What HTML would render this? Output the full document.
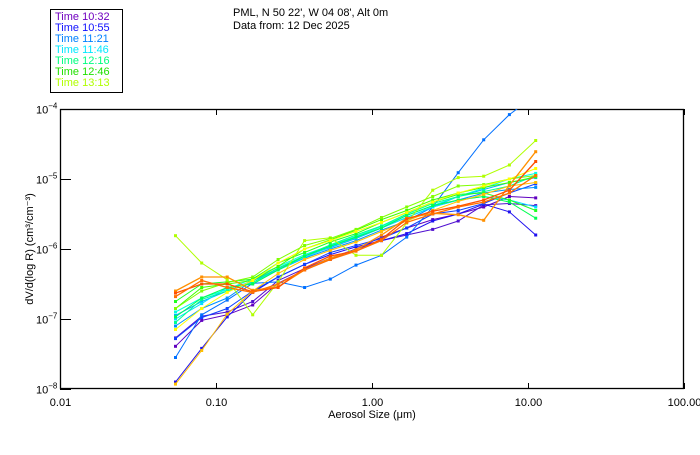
<!DOCTYPE html>
<html><head><meta charset="utf-8"><style>
body{margin:0;background:#fff;width:700px;height:450px;overflow:hidden;font-family:"Liberation Sans","DejaVu Sans",sans-serif}
svg text{font-family:"Liberation Sans","DejaVu Sans",sans-serif;font-size:11px}
</style></head><body>
<svg id="chart" width="700" height="450" viewBox="0 0 700 450" xmlns="http://www.w3.org/2000/svg">
<rect x="0" y="0" width="700" height="450" fill="#fff"/>
<g>
<rect x="50.5" y="9.5" width="72" height="83" fill="#fff" stroke="#000"/>
<text x="55" y="20" fill="#7000c0">Time 10:32</text>
<text x="55" y="31" fill="#1010ff">Time 10:55</text>
<text x="55" y="42" fill="#0080ff">Time 11:21</text>
<text x="55" y="53" fill="#00e8ff">Time 11:46</text>
<text x="55" y="64" fill="#00ff80">Time 12:16</text>
<text x="55" y="75" fill="#20e000">Time 12:46</text>
<text x="55" y="86" fill="#b0ff00">Time 13:13</text>
</g>
<text x="233" y="16">PML, N 50 22', W 04 08', Alt 0m</text>
<text x="233" y="29">Data from: 12 Dec 2025</text>
<g id="axes"></g>
<g id="series" clip-path="url(#clip)"></g>
<defs><clipPath id="clip"><rect x="60" y="109" width="624" height="280"/></clipPath></defs>
<text x="372" y="418" text-anchor="middle">Aerosol Size (μm)</text>
<text transform="translate(33,249) rotate(-90)" text-anchor="middle">dV/d(log R) (cm³/cm⁻³)</text>
</svg>
<script>
const sizes=[0.055,0.081,0.118,0.172,0.25,0.37,0.54,0.79,1.15,1.67,2.45,3.57,5.2,7.6,11.2];
const xTicks=[0.01,0.1,1,10,100];
const xTickLabels=["0.01","0.10","1.00","10.00","100.00"];
const yTickExps=[-4,-5,-6,-7,-8];
const seriesColors=["#6000c0","#5010d0","#2010f0","#1040ff","#0070ff","#0090ff","#00b0ff","#00e0ff","#00ffe0","#00ff90","#00ff50","#20ff20","#40ff00","#b0ff00","#80ff00","#ffff00","#ffc000","#ff9000","#ff5000","#ff7000"];
// log10 of dV/dlogR for each series
const s01=[-7.39,-7.02,-6.94,-6.8,-6.49,-6.3,-6.15,-6.0,-5.83,-5.7,-5.58,-5.5,-5.4,-5.25,-5.27];
const s02=[-7.27,-6.96,-6.9,-6.75,-6.45,-6.28,-6.13,-6.0,-5.88,-5.8,-5.72,-5.6,-5.37,-5.35,-5.38];
const s03=[-7.9,-7.42,-6.97,-6.62,-6.4,-6.22,-6.08,-5.97,-5.88,-5.78,-5.6,-5.5,-5.36,-5.47,-5.8];
const s04=[-7.28,-6.98,-6.85,-6.6,-6.4,-6.22,-6.05,-5.95,-5.85,-5.7,-5.5,-5.45,-5.35,-5.2,-5.07];
const s05=[-7.55,-6.94,-6.73,-6.49,-6.47,-6.55,-6.43,-6.23,-6.09,-5.83,-5.4,-4.91,-4.44,-4.08,-3.8];
const s06=[-7.1,-6.85,-6.7,-6.45,-6.3,-6.13,-6.0,-5.88,-5.73,-5.6,-5.4,-5.3,-5.2,-5.15,-5.12];
const s07=[-6.95,-6.75,-6.6,-6.45,-6.28,-6.1,-5.98,-5.85,-5.7,-5.55,-5.4,-5.25,-5.15,-5.05,-4.98];
const s08=[-7.0,-6.78,-6.55,-6.48,-6.3,-6.12,-5.97,-5.84,-5.7,-5.55,-5.4,-5.3,-5.25,-5.3,-5.4];
const s09=[-6.9,-6.7,-6.58,-6.42,-6.25,-6.08,-5.95,-5.82,-5.68,-5.52,-5.38,-5.25,-5.13,-5.0,-4.92];
const s10=[-7.05,-6.72,-6.6,-6.48,-6.27,-6.1,-5.94,-5.8,-5.67,-5.5,-5.35,-5.25,-5.18,-5.1,-4.95];
const s11=[-6.97,-6.7,-6.55,-6.5,-6.3,-6.1,-5.96,-5.83,-5.7,-5.52,-5.38,-5.3,-5.25,-5.33,-5.56];
const s12=[-6.75,-6.5,-6.47,-6.43,-6.2,-6.05,-5.9,-5.78,-5.62,-5.48,-5.33,-5.22,-5.2,-5.3,-5.45];
const s13=[-6.85,-6.55,-6.5,-6.45,-6.25,-6.0,-5.87,-5.73,-5.58,-5.45,-5.3,-5.2,-5.12,-5.05,-4.97];
const s14=[-5.81,-6.2,-6.44,-6.94,-6.47,-5.88,-5.84,-6.09,-6.09,-5.63,-5.16,-4.98,-4.96,-4.8,-4.45];
const s15=[-6.85,-6.6,-6.48,-6.4,-6.15,-5.95,-5.85,-5.72,-5.55,-5.4,-5.25,-5.1,-5.08,-5.0,-4.95];
const s16=[-7.15,-6.85,-6.62,-6.45,-6.2,-6.0,-5.88,-5.75,-5.62,-5.48,-5.33,-5.2,-5.1,-5.0,-4.85];
const s17=[-7.93,-7.45,-6.93,-6.6,-6.35,-6.15,-6.02,-5.9,-5.75,-5.6,-5.45,-5.32,-5.22,-5.1,-5.05];
const s18=[-6.6,-6.4,-6.4,-6.59,-6.54,-6.3,-6.13,-6.01,-5.8,-5.56,-5.49,-5.51,-5.59,-5.09,-4.61];
const s19=[-6.63,-6.5,-6.5,-6.61,-6.55,-6.27,-6.1,-6.03,-5.86,-5.57,-5.46,-5.39,-5.3,-5.16,-4.75];
const s20=[-6.68,-6.45,-6.55,-6.62,-6.5,-6.3,-6.15,-6.03,-5.88,-5.62,-5.5,-5.4,-5.33,-5.2,-4.95];
const allSeries=[s01,s02,s03,s04,s05,s06,s07,s08,s09,s10,s11,s12,s13,s14,s15,s16,s17,s18,s19,s20];

const L=60,R=684,T=109,B=389;
const xMinE=-2,xMaxE=2,yMinE=-8,yMaxE=-4;
function xs(v){return L+(Math.log10(v)-xMinE)/(xMaxE-xMinE)*(R-L);}
function ys(e){return B-(e-yMinE)/(yMaxE-yMinE)*(B-T);}
const NS="http://www.w3.org/2000/svg";
function mk(tag,attrs,parent){const el=document.createElementNS(NS,tag);for(const k in attrs)el.setAttribute(k,attrs[k]);parent.appendChild(el);return el;}
const axes=document.getElementById('axes');
const frame=mk('rect',{x:L+0.5,y:T+0.5,width:R-L-1,height:B-T-1,fill:'none',stroke:'#000','stroke-width':1.3},axes);


xTicks.forEach((v,i)=>{
  const x=Math.round(xs(v))+0.5;
  const t1=mk('line',{x1:x,x2:x,y1:B,y2:B-6,stroke:'#000'},axes);
  
  
  const t2=mk('line',{x1:x,x2:x,y1:T,y2:T+6,stroke:'#000'},axes);
  
  
  const lb=mk('text',{x:x,y:B+17,'text-anchor':'middle'},axes);
  lb.textContent=xTickLabels[i];
  
  
});
yTickExps.forEach(e=>{
  const y=Math.round(ys(e))+0.5;
  const t=mk('line',{x1:L,x2:L+11,y1:y,y2:y,stroke:'#000'},axes);
  
  
  const lb=mk('text',{x:36,y:y+4},axes);
  
  
  lb.textContent='10';
  const sp=mk('tspan',{dy:-5,'font-size':'8px'},lb);
  sp.textContent=String(e).replace('-','−');
});
const sg=document.getElementById('series');
allSeries.forEach((vals,si)=>{
  const g=mk('g',{},sg);
  
  
  const pts=vals.map((e,i)=>xs(sizes[i]).toFixed(1)+','+ys(e).toFixed(1)).join(' ');
  const pl=mk('polyline',{points:pts,fill:'none',stroke:seriesColors[si],'stroke-width':(si>=17?1.3:1)},g);
  
  
  vals.forEach((e,i)=>{
    const r=mk('rect',{x:(xs(sizes[i])-1.5).toFixed(1),y:(ys(e)-1.5).toFixed(1),width:3,height:3,fill:seriesColors[si]},g);
    
    
  });
});
</script>
</body></html>
